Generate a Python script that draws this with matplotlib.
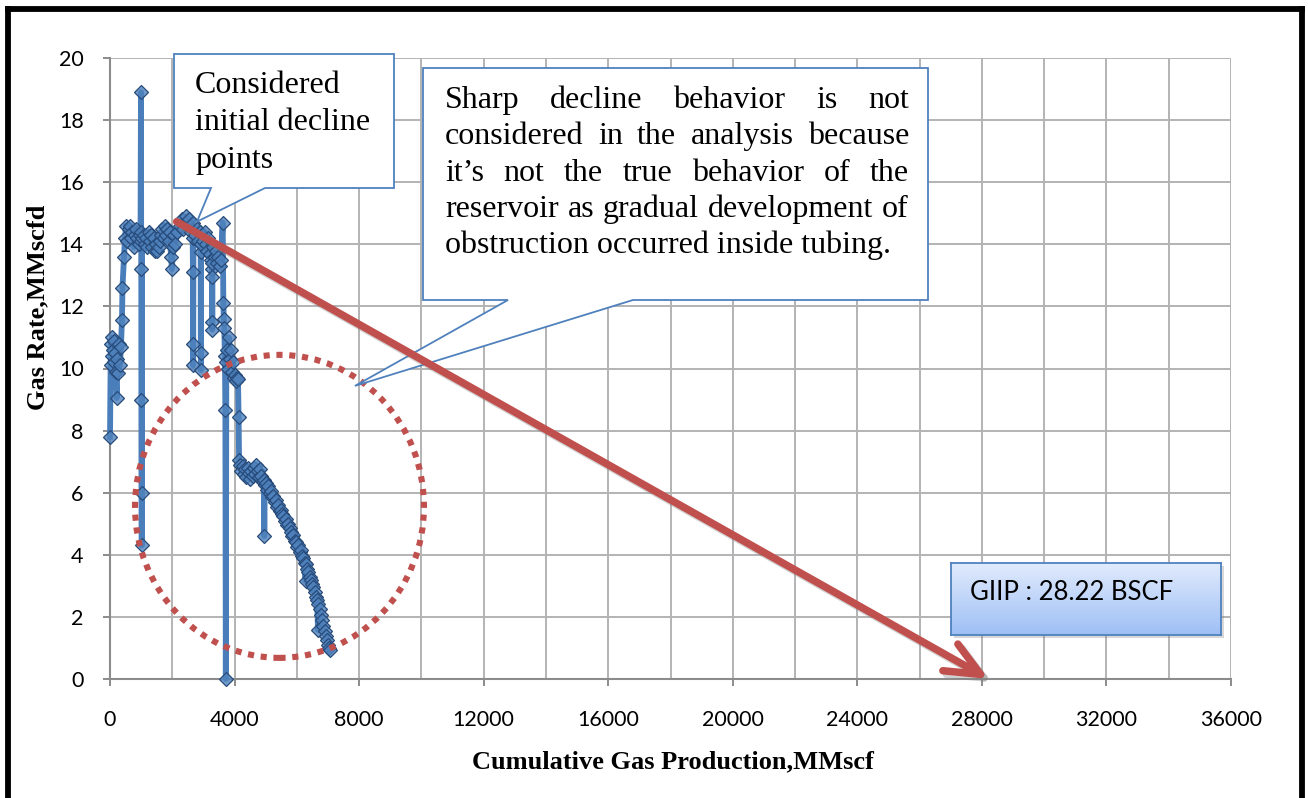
import numpy as np
import matplotlib.pyplot as plt
import matplotlib.patheffects as pe
from matplotlib.patches import Polygon, FancyArrowPatch, Ellipse, Rectangle

W, H = 1308, 798

# cumulative gas production (MMscf) and gas rate (MMscfd), in time order
cum_gas = [
    0, 20, 40, 60, 80, 100, 120, 140, 160, 180, 215, 240, 265, 290, 320, 350, 385,
    400, 450, 480, 520, 560, 600, 640, 680, 720, 760, 800, 840, 880, 920, 960, 980,
    995, 1000, 1005, 1010, 1015, 1020, 1025,
    1080, 1120, 1160, 1200, 1240, 1280, 1320, 1360, 1400, 1440, 1480, 1520, 1560,
    1600, 1640, 1680, 1720, 1760, 1800, 1840, 1880, 1920, 1960, 1990, 2020, 2060,
    2100, 2150, 2250, 2300, 2350, 2400, 2450, 2500, 2550, 2600, 2650,
    2665, 2668, 2671, 2680, 2720, 2780, 2840, 2900,
    2912, 2915, 2918, 2925, 2960, 3000, 3040, 3080, 3120, 3160, 3200, 3240,
    3275, 3278, 3281, 3284, 3290, 3320, 3360, 3400, 3440, 3480, 3520, 3560,
    3619, 3640, 3655, 3670, 3690, 3705, 3720, 3735, 3760, 3790, 3820, 3850, 3880,
    3910, 3940, 3970, 4000, 4040, 4080, 4110, 4130, 4145,
    4180, 4220, 4260, 4300, 4340, 4380, 4420, 4460, 4500, 4540, 4580, 4620, 4660,
    4700, 4740, 4780, 4820, 4860, 4900, 4940, 4955, 4970, 5010, 5050, 5090, 5130,
    5170, 5210, 5250, 5290, 5330, 5370, 5410, 5450, 5490, 5530, 5570, 5610, 5650,
    5690, 5730, 5770, 5810, 5850, 5890, 5930, 5970, 6010, 6050, 6090, 6130, 6170,
    6210, 6250, 6280, 6290, 6330, 6370, 6410, 6450, 6490, 6530, 6570, 6610, 6650,
    6680, 6690, 6730, 6770, 6810, 6850, 6890, 6930, 6970, 7010, 7040, 7064,
]
gas_rate = [
    7.8, 10.1, 10.8, 10.4, 11.0, 10.6, 10.2, 10.9, 10.5, 9.9, 9.05, 10.3, 9.85, 10.8, 10.1, 10.7, 11.56,
    12.6, 13.6, 14.2, 14.6, 14.1, 14.5, 14.6, 14.2, 14.4, 13.9, 14.3, 14.5, 14.2, 14.0, 14.3, 14.1,
    18.9, 14.4, 13.2, 9.0, 6.0, 4.3, 14.2,
    14.3, 14.0, 14.2, 13.9, 14.4, 14.1, 14.3, 13.9, 14.2, 13.8, 14.0, 13.8, 13.9,
    14.1, 14.3, 14.5, 14.2, 14.6, 14.3, 14.5, 14.1, 14.4, 13.6, 13.2, 13.9, 14.3,
    14.0, 14.4, 14.6, 14.8, 14.5, 14.7, 14.9, 14.6, 14.8, 14.4, 14.7,
    13.1, 10.8, 10.1, 14.2, 14.3, 14.5, 14.1, 14.4,
    13.75, 10.5, 9.95, 14.0, 14.3, 14.1, 14.4, 14.0, 13.8, 14.2, 13.7, 13.5,
    13.2, 12.95, 11.5, 11.25, 13.4, 13.9, 13.6, 13.8, 13.4, 13.6, 13.3, 13.5,
    14.7, 12.1, 11.6, 11.3, 10.4, 8.66, 0.0, 10.2, 10.6, 10.0, 11.0, 10.3, 10.6,
    9.9, 10.2, 9.7, 9.8, 9.6, 9.7, 9.65, 8.44, 7.05,
    6.90, 6.70, 6.85, 6.60, 6.75, 6.50, 6.80, 6.65, 6.45, 6.70, 6.55, 6.80, 6.60,
    6.90, 6.70, 6.50, 6.75, 6.55, 6.35, 6.40, 4.60, 6.25, 6.30, 6.10, 6.20, 6.00,
    6.05, 5.85, 5.90, 5.70, 5.75, 5.55, 5.60, 5.40, 5.45, 5.30, 5.25, 5.10, 5.15,
    4.95, 5.00, 4.85, 4.75, 4.60, 4.65, 4.45, 4.40, 4.25, 4.30, 4.10, 4.15, 3.95,
    3.90, 3.75, 3.15, 3.70, 3.55, 3.45, 3.30, 3.20, 3.05, 2.95, 2.80, 2.65, 2.55,
    1.58, 2.40, 2.25, 2.05, 1.90, 1.70, 1.55, 1.40, 1.25, 1.10, 1.00, 0.93,
]

x_ticks = np.arange(0, 36001, 4000)
y_ticks = np.arange(0, 21, 2)

giip = 28220                      # MMscf
decline_start = (2140, 14.73)
circle_center = (5443, 5.56)
circle_size = (9280, 9.76)
tip_small = (2794, 14.73)
tip_big = (7867, 9.44)

small_lines = ["Considered", "initial decline", "points"]
big_lines = [
    "Sharp decline behavior is not",
    "considered in the analysis because",
    "it\u2019s not the true behavior of the",
    "reservoir as gradual development of",
    "obstruction occurred inside tubing.",
]
giip_label = "GIIP : 28.22 BSCF"

red = "#C0504D"
blue = "#4A7EBB"
box_edge = "#4F81BD"
serif = "Liberation Serif"
note_size = 23


def fx(px):
    return px / W


def fy(py):
    return 1 - py / H


fig = plt.figure(figsize=(W / 100, H / 100), dpi=100)
ax = fig.add_axes([fx(110), fy(679), (1231 - 110) / W, (679 - 58) / H])
ax.set_xlim(0, 36000)
ax.set_ylim(0, 20)
ax.set_xticks(x_ticks)
ax.set_xticks(np.arange(2000, 36000, 4000), minor=True)
ax.set_yticks(y_ticks)
ax.grid(which="both", color="#B3B3B3", lw=1.4)
ax.set_axisbelow(True)
for s in ["top", "right"]:
    ax.spines[s].set_visible(False)
for s in ["left", "bottom"]:
    ax.spines[s].set_color("#8C8C8C")
    ax.spines[s].set_linewidth(1.5)
ax.tick_params(which="major", length=5, width=1.4, color="#8C8C8C",
               labelsize=15.5, pad=14)
ax.tick_params(axis="x", pad=17)
ax.tick_params(which="minor", length=0)
for lab in ax.get_xticklabels() + ax.get_yticklabels():
    lab.set_fontfamily("Lato")

ax.plot(cum_gas, gas_rate, color=blue, lw=4.2, marker="D", ms=7.5,
        mfc=(0.31, 0.51, 0.74, 0.8), mec="#274B7A", mew=0.9,
        clip_on=False, zorder=3)

ax.add_patch(Ellipse(circle_center, circle_size[0], circle_size[1], fill=False,
                     ec=red, lw=4.4, ls=(0, (1.0, 1.1)), zorder=4))

fig.text(fx(38), fy(307), "Gas Rate,MMscfd", rotation=90, ha="center", va="center",
         family=serif, weight="bold", fontsize=19)
fig.text(fx(673), fy(762), "Cumulative Gas Production,MMscf", ha="center", va="center",
         family=serif, weight="bold", fontsize=19)


def data_to_px(pt):
    dx, dy = ax.transData.transform(pt)
    return dx, H - dy


def callout(left, top, right, bottom, leg_a, leg_b, tip):
    tx, ty = data_to_px(tip)
    pts = [(left, top), (right, top), (right, bottom), (leg_b, bottom),
           (tx, ty), (leg_a, bottom), (left, bottom)]
    poly = Polygon([(fx(a), fy(b)) for a, b in pts], closed=True, fc="white",
                   ec=box_edge, lw=1.3, transform=fig.transFigure,
                   clip_on=False, zorder=5)
    ax.add_patch(poly)


callout(174, 54, 394, 188, 211, 265, tip_small)
for line, base in zip(small_lines, [93, 130, 168]):
    ax.text(fx(195), fy(base), line, transform=fig.transFigure, va="baseline",
            family=serif, fontsize=note_size, zorder=6, clip_on=False)

callout(423, 68, 928, 300, 508, 633, tip_big)
renderer = fig.canvas.get_renderer()
text_left, text_right = 445, 909
for i, (line, base) in enumerate(zip(big_lines, [108, 144, 181, 217, 253])):
    words = line.split(" ")
    if i == len(big_lines) - 1:
        ax.text(fx(text_left), fy(base), line, transform=fig.transFigure,
                va="baseline", family=serif, fontsize=note_size, zorder=6)
        continue
    widths = []
    for w in words:
        t = fig.text(0, 0, w, family=serif, fontsize=note_size)
        widths.append(t.get_window_extent(renderer).width)
        t.remove()
    gap = (text_right - text_left - sum(widths)) / (len(words) - 1)
    x = text_left
    for w, wd in zip(words, widths):
        ax.text(fx(x), fy(base), w, transform=fig.transFigure, va="baseline",
                family=serif, fontsize=note_size, zorder=6)
        x += wd + gap

arrow = FancyArrowPatch(decline_start, (giip, 0), arrowstyle="->,head_length=25,head_width=11",
                        mutation_scale=1, lw=5.4, color=red, shrinkA=0, shrinkB=0,
                        capstyle="round", joinstyle="round", clip_on=False, zorder=7)
arrow.set_path_effects([pe.SimpleLineShadow(offset=(2.5, -2.5), shadow_color="gray", alpha=0.35),
                        pe.Normal()])
ax.add_patch(arrow)

# GIIP box with a soft vertical gradient and a small drop shadow
fig.patches.append(Rectangle((fx(954), fy(638)), (1221 - 951) / W, (635 - 563) / H,
                             transform=fig.transFigure, fc="gray", ec="none",
                             alpha=0.3, zorder=9))
bax = fig.add_axes([fx(951), fy(635), (1221 - 951) / W, (635 - 563) / H], zorder=10)
grad = np.linspace(0, 1, 100)[:, None]
top_c = np.array([0.88, 0.92, 0.99])
bot_c = np.array([0.62, 0.75, 0.96])
img = top_c[None, None, :] * (1 - grad[..., None]) + bot_c[None, None, :] * grad[..., None]
bax.imshow(np.repeat(img, 2, axis=1), aspect="auto", extent=(0, 1, 0, 1))
bax.set_xticks([])
bax.set_yticks([])
for s in bax.spines.values():
    s.set_color(box_edge)
    s.set_linewidth(1.3)
bax.text((970 - 951) / 270, 1 - (600 - 563) / 72, giip_label, va="baseline",
         family="Lato", fontsize=18.5, transform=bax.transAxes)

# outer frame
for seg in [[(8, 820), (8, 8.5)], [(8, 8.5), (1302, 8.5)], [(1302, 8.5), (1302, 820)]]:
    fig.lines.append(plt.Line2D([fx(p[0]) for p in seg], [fy(p[1]) for p in seg],
                                transform=fig.transFigure, color="black", lw=4.2,
                                solid_capstyle="projecting"))

fig.savefig("out.png", dpi=100)
